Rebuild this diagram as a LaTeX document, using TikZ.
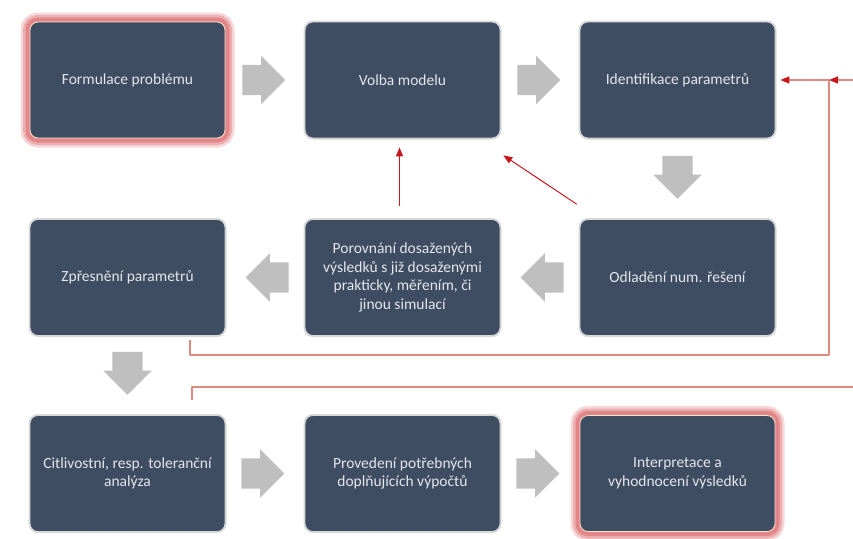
\documentclass[tikz,border=0pt]{standalone}
\usepackage{fontspec}
\setmainfont{Carlito}
\usetikzlibrary{arrows.meta,calc,shapes.arrows}
\definecolor{slate}{HTML}{3F4D63}
\definecolor{boxtext}{HTML}{E4E6EA}
\definecolor{glowred}{HTML}{E0797C}
\definecolor{arrred}{HTML}{C8161D}
\definecolor{fbred}{HTML}{DE8A7E}
\definecolor{blockgray}{HTML}{BFBFBF}
\tikzset{
    >=Stealth,
    flow/.style={
        stepbox/.append style={align=center,draw=white!85!black,line width=0.8pt,fill=slate,rounded corners=8pt,minimum width=195pt,minimum height=116pt,text=boxtext,font=\fontsize{15.5}{18.5}\selectfont,inner sep=2pt,preaction={draw=black!15,line width=3pt}},
        goal/.append style={draw=white!80!orange,preaction={draw=glowred!30,line width=19pt},preaction={draw=glowred!60,line width=14pt},preaction={draw=glowred!90,line width=9pt}},
        blockarr/.append style={single arrow,anchor=tip,fill=blockgray,draw=none,inner xsep=0pt,inner ysep=15pt,minimum height=43pt,single arrow head extend=9pt,single arrow tip angle=90},
        back/.append style={draw=arrred,line width=1pt,-{Triangle[length=9pt,width=7pt]}},
        fbline/.append style={draw=fbred,line width=1.3pt,line join=round},
        fbtip/.append style={-{Triangle[length=9pt,width=7pt,color=arrred]}}
    }
}
\begin{document}
\begin{tikzpicture}[flow,x=1pt,y=-1pt]
    \useasboundingbox (0,0) rectangle (853,538);
    % feedback lines
    \coordinate (k1) at (190,340);
    \coordinate (k2) at (192,400);
    \coordinate (j0) at (829,355);
    \coordinate (j) at (829,80);
    \coordinate (fbin) at (853,80);
    \coordinate (fbout) at (853,387);
    % steps
    \node[stepbox,goal] (form) at (127.5,80) {Formulace problému};
    \node[stepbox] (volba) at (402.5,80) {Volba modelu};
    \node[stepbox] (ident) at (677.5,80) {Identifikace parametrů};
    \node[stepbox] (zpres) at (127.5,277.5) {Zpřesnění parametrů};
    \node[stepbox] (porov) at (402.5,277.5) {Porovnání dosažených\\výsledků s již dosaženými\\prakticky, měřením, či\\jinou simulací};
    \node[stepbox] (odlad) at (677.5,277.5) {Odladění num. řešení};
    \node[stepbox] (citl) at (127.5,473.5) {Citlivostní, resp. toleranční\\analýza};
    \node[stepbox] (prov) at (402.5,473.5) {Provedení potřebných\\doplňujících výpočtů};
    \node[stepbox,goal] (interp) at (677.5,473.5) {Interpretace a\\vyhodnocení výsledků};
    % block arrows (tip 20pt before the next step)
    \node[blockarr] (s12) at ([xshift=-19pt]volba.west) {};
    \node[blockarr] (s23) at ([xshift=-19pt]ident.west) {};
    \node[blockarr,rotate=-90] (s36) at ([yshift=20pt]odlad.north) {};
    \node[blockarr,rotate=180] (s65) at ([xshift=20pt]porov.east) {};
    \node[blockarr,rotate=180] (s54) at ([xshift=20pt]zpres.east) {};
    \node[blockarr,rotate=-90] (s47) at ([yshift=20pt]citl.north) {};
    \node[blockarr] (s78) at ([xshift=-20pt]prov.west) {};
    \node[blockarr] (s89) at ([xshift=-20pt]interp.west) {};
    % returns
    \draw[back] ([shift={(-3pt,13pt)}]porov.north) -- ([shift={(-3pt,-9pt)}]volba.south);
    \draw[back] ([shift={(-3pt,15pt)}]odlad.north west) -- ([shift={(3pt,-17pt)}]volba.south east);
    \draw[fbline,fbtip] (k1) |- (j0) |- ([xshift=5pt]ident.east);
    \draw[fbline,fbtip] (fbin) -- (j);
    \draw[fbline] (fbout) -| (k2);
\end{tikzpicture}
\end{document}
